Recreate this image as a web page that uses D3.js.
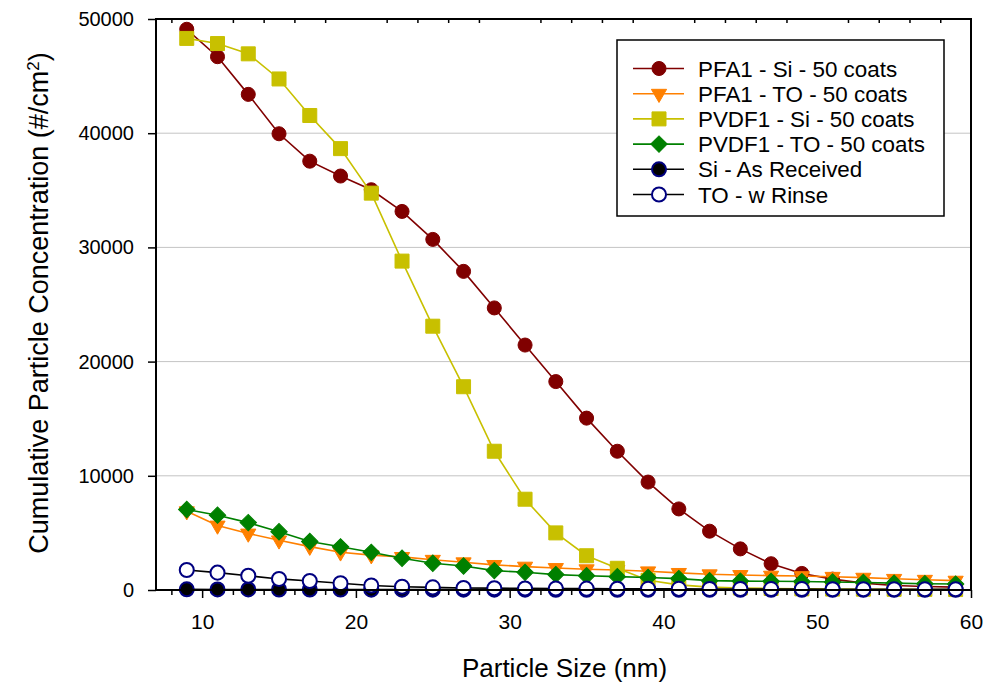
<!DOCTYPE html>
<html>
<head>
<meta charset="utf-8">
<script src="https://d3js.org/d3.v7.min.js"></script>
<style>
  html, body { margin: 0; padding: 0; background: #fff; }
  svg { display: block; font-family: "Liberation Sans", Arial, sans-serif; }
</style>
</head>
<body>
<svg id="chart" width="1000" height="685"></svg>
<script>
// Particle size bins (nm)
const sizes = [9, 11, 13, 15, 17, 19, 21, 23, 25, 27, 29, 31, 33, 35, 37, 39, 41, 43, 45, 47, 49, 51, 53, 55, 57, 59];

// Cumulative particle concentration (#/cm^2) per series
const pfa1Si = [49100, 46700, 43400, 39950, 37550, 36250, 35050, 33150, 30700, 27900, 24700, 21450, 18250, 15050, 12150, 9450, 7100, 5150, 3600, 2300, 1450, 950, 600, 400, 300, 250];
const pfa1TO = [6900, 5650, 4950, 4350, 3800, 3300, 3050, 2900, 2650, 2430, 2200, 2050, 1930, 1820, 1750, 1640, 1500, 1380, 1320, 1260, 1220, 1160, 1080, 980, 900, 820];
const pvdf1Si = [48300, 47850, 46950, 44750, 41550, 38650, 34750, 28800, 23100, 17800, 12150, 7950, 5000, 3000, 1900, 850, 450, 250, 180, 130, 100, 80, 70, 60, 50, 40];
const pvdf1TO = [7050, 6550, 5900, 5100, 4250, 3780, 3300, 2780, 2340, 2100, 1700, 1550, 1350, 1250, 1170, 1100, 1000, 820, 780, 760, 740, 700, 660, 600, 550, 520];
const siAsReceived = [60, 50, 50, 40, 40, 40, 30, 30, 30, 30, 30, 30, 20, 20, 20, 20, 20, 20, 20, 20, 20, 20, 20, 20, 20, 20];
const toRinse = [1750, 1520, 1250, 970, 790, 590, 390, 290, 230, 180, 160, 140, 130, 120, 110, 100, 100, 90, 90, 80, 80, 70, 70, 60, 60, 60];

const seriesNames = ["PFA1 - Si - 50 coats", "PFA1 - TO - 50 coats", "PVDF1 - Si - 50 coats", "PVDF1 - TO - 50 coats", "Si - As Received", "TO - w Rinse"];

const yTicks = [0, 10000, 20000, 30000, 40000, 50000];
const xTicks = [10, 20, 30, 40, 50, 60];
const xMinorTicks = [8, 12, 14, 16, 18, 22, 24, 26, 28, 32, 34, 36, 38, 42, 44, 46, 48, 52, 54, 56, 58];

// Styling per series
const styles = [
  { values: pfa1Si,       line: "#800000", fill: "#800000", stroke: "#800000", shape: "circle" },
  { values: pfa1TO,       line: "#ff8000", fill: "#ff8000", stroke: "#ff8000", shape: "triangleDown" },
  { values: pvdf1Si,      line: "#c8c000", fill: "#c8c000", stroke: "#c8c000", shape: "square" },
  { values: pvdf1TO,      line: "#008000", fill: "#008000", stroke: "#008000", shape: "diamond" },
  { values: siAsReceived, line: "#000000", fill: "#000000", stroke: "#000080", shape: "circle" },
  { values: toRinse,      line: "#000000", fill: "#ffffff", stroke: "#000080", shape: "circle" }
];

const plot = { left: 156, right: 971, top: 19, bottom: 590 };

const svg = d3.select("#chart");

const x = d3.scaleLinear().domain([7, 60]).range([plot.left, plot.right]);
const y = d3.scaleLinear().domain([0, 50000]).range([plot.bottom, plot.top]);

// Horizontal gridlines
svg.append("g")
  .selectAll("line")
  .data(yTicks.filter(d => d > 0 && d < 50000))
  .join("line")
  .attr("x1", plot.left).attr("x2", plot.right)
  .attr("y1", d => y(d)).attr("y2", d => y(d))
  .attr("stroke", "#c4c4c4").attr("stroke-width", 1);

// Marker path generator
function markerPath(shape) {
  switch (shape) {
    case "circle": return d3.symbol(d3.symbolCircle, 155)();
    case "square": return d3.symbol(d3.symbolSquare, 196)();
    case "diamond": return d3.symbol(d3.symbolSquare, 135)();
    case "triangleDown": return d3.symbol(d3.symbolTriangle, 100)();
  }
}
function markerRotate(shape) {
  if (shape === "diamond") return " rotate(45)";
  if (shape === "triangleDown") return " rotate(180)";
  return "";
}

const lineGen = d3.line()
  .x((d, i) => x(sizes[i]))
  .y(d => y(d));

// Series: line then markers, in legend order
styles.forEach(s => {
  const g = svg.append("g");
  g.append("path")
    .datum(s.values)
    .attr("d", lineGen)
    .attr("fill", "none")
    .attr("stroke", s.line)
    .attr("stroke-width", 1.6);
  const p = markerPath(s.shape);
  g.selectAll("path.m")
    .data(s.values)
    .join("path")
    .attr("class", "m")
    .attr("d", p)
    .attr("transform", (d, i) => `translate(${x(sizes[i])},${y(d)})` + markerRotate(s.shape))
    .attr("fill", s.fill)
    .attr("stroke", s.stroke)
    .attr("stroke-width", s.stroke === "#000080" ? 2 : 1);
});

// Axes
const axisLeft = d3.axisLeft(y).tickValues(yTicks).tickSize(8).tickPadding(14).tickFormat(d3.format("d"));
const gl = svg.append("g").attr("transform", `translate(${plot.left},0)`).call(axisLeft);
gl.select(".domain").remove();
gl.selectAll(".tick line").attr("stroke", "#000").attr("stroke-width", 1.5);
gl.selectAll(".tick text").attr("font-size", 20).attr("fill", "#000").attr("font-family", "Liberation Sans, Arial, sans-serif");

const axisBottom = d3.axisBottom(x).tickValues(xTicks).tickSize(8).tickPadding(16).tickFormat(d3.format("d"));
const gb = svg.append("g").attr("transform", `translate(0,${plot.bottom})`).call(axisBottom);
gb.select(".domain").remove();
gb.selectAll(".tick line").attr("stroke", "#000").attr("stroke-width", 1.5);
gb.selectAll(".tick text").attr("font-size", 21).attr("fill", "#000").attr("font-family", "Liberation Sans, Arial, sans-serif");

const axisBottomMinor = d3.axisBottom(x).tickValues(xMinorTicks).tickSize(5).tickFormat("");
const gbm = svg.append("g").attr("transform", `translate(0,${plot.bottom})`).call(axisBottomMinor);
gbm.select(".domain").remove();
gbm.selectAll(".tick line").attr("stroke", "#000").attr("stroke-width", 1.5);

const axisTopMinor = d3.axisTop(x).tickValues(xMinorTicks).tickSize(-4).tickFormat("");
const gtm = svg.append("g").attr("transform", `translate(0,${plot.top})`).call(axisTopMinor);
gtm.select(".domain").remove();
gtm.selectAll(".tick line").attr("stroke", "#000").attr("stroke-width", 1.5);

// Plot frame
svg.append("rect")
  .attr("x", plot.left).attr("y", plot.top)
  .attr("width", plot.right - plot.left).attr("height", plot.bottom - plot.top)
  .attr("fill", "none").attr("stroke", "#000").attr("stroke-width", 2);

// Axis titles
svg.append("text")
  .attr("x", (plot.left + plot.right) / 2 + 1)
  .attr("y", 677)
  .attr("text-anchor", "middle")
  .attr("font-size", 26)
  .attr("fill", "#000")
  .text("Particle Size (nm)");

const yt = svg.append("text")
  .attr("transform", "translate(48,303) rotate(-90)")
  .attr("text-anchor", "middle")
  .attr("font-size", 27)
  .attr("fill", "#000");
yt.append("tspan").text("Cumulative Particle Concentration (#/cm");
yt.append("tspan").attr("baseline-shift", "super").attr("font-size", 17).text("2");
yt.append("tspan").text(")");

// Legend
const legend = svg.append("g");
legend.append("rect")
  .attr("x", 617).attr("y", 40).attr("width", 327).attr("height", 176)
  .attr("fill", "#fff").attr("stroke", "#000").attr("stroke-width", 1.5);

const rows = legend.selectAll("g.row")
  .data(styles.map((s, i) => ({ s, name: seriesNames[i], i })))
  .join("g")
  .attr("class", "row")
  .attr("transform", d => `translate(0,${68.5 + d.i * 25.2})`);

rows.append("line")
  .attr("x1", 633).attr("x2", 684).attr("y1", 0).attr("y2", 0)
  .attr("stroke", d => d.s.line).attr("stroke-width", 1.6);
rows.append("path")
  .attr("d", d => markerPath(d.s.shape))
  .attr("transform", d => "translate(659,0)" + markerRotate(d.s.shape))
  .attr("fill", d => d.s.fill)
  .attr("stroke", d => d.s.stroke)
  .attr("stroke-width", d => d.s.stroke === "#000080" ? 2 : 1);
rows.append("text")
  .attr("x", 698).attr("y", 8)
  .attr("font-size", 22.4)
  .attr("fill", "#000")
  .text(d => d.name);
</script>
</body>
</html>
